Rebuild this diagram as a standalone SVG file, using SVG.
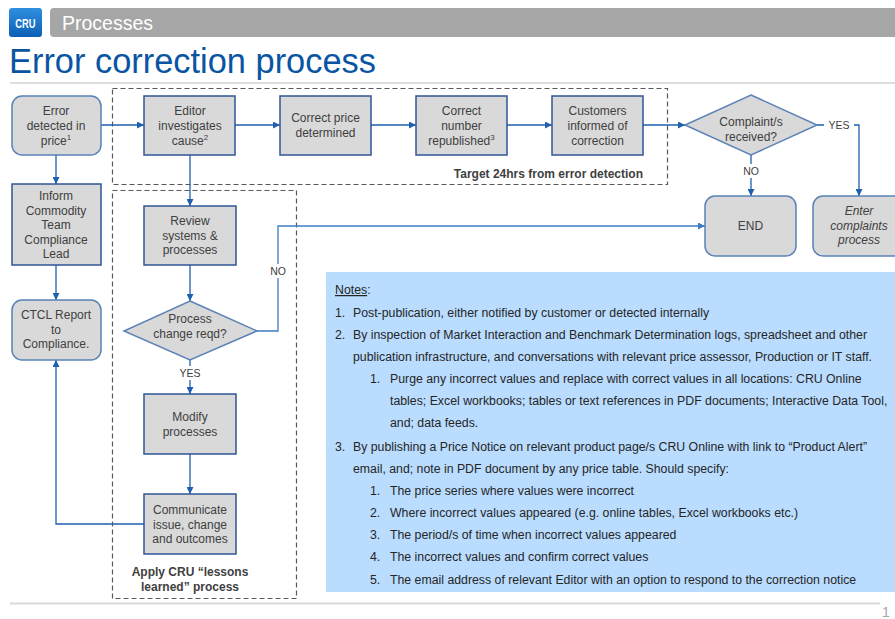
<svg xmlns="http://www.w3.org/2000/svg" width="895" height="619" viewBox="0 0 895 619">
<defs>
<linearGradient id="logoGrad" x1="0" y1="0" x2="0" y2="1">
<stop offset="0" stop-color="#2F8FE0"/>
<stop offset="1" stop-color="#0B5FB4"/>
</linearGradient>
<marker id="arr" viewBox="0 0 10 10" refX="10" refY="5" markerWidth="7" markerHeight="7" markerUnits="userSpaceOnUse" orient="auto">
<path d="M0,0 L10,5 L0,10 z" fill="#1F5FAD"/>
</marker>
<marker id="arrL" viewBox="0 0 10 10" refX="10" refY="5" markerWidth="7" markerHeight="7" markerUnits="userSpaceOnUse" orient="auto">
<path d="M0,0 L10,5 L0,10 z" fill="#3E7CC2"/>
</marker>
</defs>
<style>
.box{fill:#D9D9D9;stroke:#2F5597;stroke-width:1.5}
.rbox{fill:#D9D9D9;stroke:#5A82B6;stroke-width:1.5}
.dia{fill:#D9D9D9;stroke:#5A82B6;stroke-width:1.5}
.t{font-family:"Liberation Sans",Arial,sans-serif;font-size:12px;fill:#404040;text-anchor:middle}
.ti{font-style:italic}
.b{font-family:"Liberation Sans",Arial,sans-serif;font-size:12px;font-weight:bold;fill:#404040}
.lbl{font-family:"Liberation Sans",Arial,sans-serif;font-size:10.5px;fill:#404040;text-anchor:middle}
.dash{fill:none;stroke:#595959;stroke-width:1.2;stroke-dasharray:5,3}
.c{fill:none;stroke:#1F5FAD;stroke-width:1.3}
.cl{fill:none;stroke:#3E7CC2;stroke-width:1.3}
.n{font-family:"Liberation Sans",Arial,sans-serif;font-size:12.3px;fill:#262626}
.sup{font-size:8px}
</style>
<rect width="895" height="619" fill="#FFFFFF"/>

<g id="header">
<rect x="9" y="8" width="33" height="29" rx="3" fill="url(#logoGrad)"/>
<text x="25.5" y="28" font-family="'Liberation Sans',Arial,sans-serif" font-size="13" font-weight="bold" fill="#FFFFFF" text-anchor="middle" transform="translate(25.5,0) scale(0.72,1) translate(-25.5,0)">CRU</text>
<path d="M54,8 H895 V37 H54 Q50,37 50,33 V12 Q50,8 54,8 z" fill="#A6A6A6"/>
<text x="62" y="29.5" font-family="'Liberation Sans',Arial,sans-serif" font-size="19.5" fill="#FFFFFF">Processes</text>
<text x="9" y="72.5" font-family="'Liberation Sans',Arial,sans-serif" font-size="34.4" fill="#0A55A3">Error correction process</text>
<line x1="10" y1="83" x2="895" y2="83" stroke="#BFBFBF" stroke-width="1.2"/>
</g>

<g id="group-target24">
<rect class="dash" x="112.5" y="88.5" width="555" height="96"/>
<text class="b" x="643" y="178" text-anchor="end">Target 24hrs from error detection</text>
</g>
<g id="group-lessons">
<rect class="dash" x="112.5" y="190.5" width="184" height="408"/>
<text class="b" x="190" y="576" text-anchor="middle">Apply CRU “lessons</text>
<text class="b" x="190" y="591" text-anchor="middle">learned” process</text>
</g>

<g id="notes">
<rect x="326" y="272" width="569" height="320" fill="#B9DCFF"/>
<text class="n" x="335" y="294"><tspan text-decoration="underline">Notes</tspan>:</text>
<text class="n" x="335" y="317">1.</text><text class="n" x="353" y="317">Post-publication, either notified by customer or detected internally</text>
<text class="n" x="335" y="339">2.</text><text class="n" x="353" y="339">By inspection of Market Interaction and Benchmark Determination logs, spreadsheet and other</text>
<text class="n" x="353" y="361">publication infrastructure, and conversations with relevant price assessor, Production or IT staff.</text>
<text class="n" x="370" y="383">1.</text><text class="n" x="390" y="383">Purge any incorrect values and replace with correct values in all locations: CRU Online</text>
<text class="n" x="390" y="405">tables; Excel workbooks; tables or text references in PDF documents; Interactive Data Tool,</text>
<text class="n" x="390" y="427">and; data feeds.</text>
<text class="n" x="335" y="451">3.</text><text class="n" x="353" y="451">By publishing a Price Notice on relevant product page/s CRU Online with link to “Product Alert”</text>
<text class="n" x="353" y="473">email, and; note in PDF document by any price table. Should specify:</text>
<text class="n" x="370" y="495">1.</text><text class="n" x="390" y="495">The price series where values were incorrect</text>
<text class="n" x="370" y="517">2.</text><text class="n" x="390" y="517">Where incorrect values appeared (e.g. online tables, Excel workbooks etc.)</text>
<text class="n" x="370" y="539">3.</text><text class="n" x="390" y="539">The period/s of time when incorrect values appeared</text>
<text class="n" x="370" y="561">4.</text><text class="n" x="390" y="561">The incorrect values and confirm correct values</text>
<text class="n" x="370" y="584">5.</text><text class="n" x="390" y="584">The email address of relevant Editor with an option to respond to the correction notice</text>
</g>

<g id="connectors">
<line class="c" x1="101" y1="125" x2="144" y2="125" marker-end="url(#arr)"/>
<line class="c" x1="235" y1="125" x2="280" y2="125" marker-end="url(#arr)"/>
<line class="c" x1="371" y1="125" x2="416" y2="125" marker-end="url(#arr)"/>
<line class="c" x1="507" y1="125" x2="552" y2="125" marker-end="url(#arr)"/>
<line class="c" x1="643" y1="125" x2="685" y2="125" marker-end="url(#arr)"/>
<polyline class="c" points="817,125 859,125 859,196" marker-end="url(#arr)"/>
<line class="c" x1="751" y1="155" x2="751" y2="196" marker-end="url(#arr)"/>
<line class="c" x1="56" y1="155" x2="56" y2="184" marker-end="url(#arr)"/>
<line class="c" x1="56" y1="265" x2="56" y2="300" marker-end="url(#arr)"/>
<line class="c" x1="190" y1="155" x2="190" y2="206" marker-end="url(#arr)"/>
<line class="c" x1="190" y1="265" x2="190" y2="301" marker-end="url(#arr)"/>
<line class="c" x1="190" y1="360" x2="190" y2="394" marker-end="url(#arr)"/>
<line class="c" x1="190" y1="454" x2="190" y2="494" marker-end="url(#arr)"/>
<polyline class="c" points="144,524 56,524 56,360" marker-end="url(#arr)"/>
<polyline class="cl" points="257,331 278,331 278,226 705,226" marker-end="url(#arrL)"/>
<rect x="824" y="118" width="30" height="14" fill="#FFFFFF"/>
<text class="lbl" x="839" y="129">YES</text>
<rect x="741" y="164" width="20" height="14" fill="#FFFFFF"/>
<text class="lbl" x="751" y="175">NO</text>
<rect x="268" y="264" width="20" height="14" fill="#FFFFFF"/>
<text class="lbl" x="278" y="275">NO</text>
<rect x="178" y="366" width="24" height="14" fill="#FFFFFF"/>
<text class="lbl" x="190" y="377">YES</text>
</g>

<g id="node-error">
<rect class="rbox" x="12" y="96" width="89" height="59" rx="10"/>
<text class="t" x="56" y="115">Error</text>
<text class="t" x="56" y="130">detected in</text>
<text class="t" x="56" y="145">price<tspan class="sup" dy="-5">1</tspan></text>
</g>
<g id="node-editor">
<rect class="box" x="144" y="96" width="91" height="59"/>
<text class="t" x="190" y="115">Editor</text>
<text class="t" x="190" y="130">investigates</text>
<text class="t" x="190" y="145">cause<tspan class="sup" dy="-5">2</tspan></text>
</g>
<g id="node-correct-price">
<rect class="box" x="280" y="96" width="91" height="59"/>
<text class="t" x="325.5" y="122">Correct price</text>
<text class="t" x="325.5" y="137">determined</text>
</g>
<g id="node-republished">
<rect class="box" x="416" y="96" width="91" height="59"/>
<text class="t" x="461.5" y="115">Correct</text>
<text class="t" x="461.5" y="130">number</text>
<text class="t" x="461.5" y="145">republished<tspan class="sup" dy="-5">3</tspan></text>
</g>
<g id="node-customers">
<rect class="box" x="552" y="96" width="91" height="59"/>
<text class="t" x="597.5" y="115">Customers</text>
<text class="t" x="597.5" y="130">informed of</text>
<text class="t" x="597.5" y="145">correction</text>
</g>
<g id="node-complaints">
<polygon class="dia" points="751,95 817,125 751,155 685,125"/>
<text class="t" x="751" y="126">Complaint/s</text>
<text class="t" x="751" y="141">received?</text>
</g>
<g id="node-end">
<rect class="rbox" x="705" y="196" width="91" height="60" rx="10"/>
<text class="t" x="750.5" y="230">END</text>
</g>
<g id="node-enter-complaints">
<rect class="rbox" x="813" y="196" width="91" height="60" rx="10"/>
<text class="t ti" x="859" y="215">Enter</text>
<text class="t ti" x="859" y="230">complaints</text>
<text class="t ti" x="859" y="244">process</text>
</g>
<g id="node-inform">
<rect class="box" x="12" y="184" width="89" height="81"/>
<text class="t" x="56" y="200">Inform</text>
<text class="t" x="56" y="215">Commodity</text>
<text class="t" x="56" y="229">Team</text>
<text class="t" x="56" y="244">Compliance</text>
<text class="t" x="56" y="258">Lead</text>
</g>
<g id="node-ctcl">
<rect class="rbox" x="12" y="300" width="89" height="60" rx="10"/>
<text class="t" x="56" y="319">CTCL Report</text>
<text class="t" x="56" y="334">to</text>
<text class="t" x="56" y="348">Compliance.</text>
</g>
<g id="node-review">
<rect class="box" x="144" y="206" width="92" height="59"/>
<text class="t" x="190" y="225">Review</text>
<text class="t" x="190" y="240">systems &amp;</text>
<text class="t" x="190" y="254">processes</text>
</g>
<g id="node-process-change">
<polygon class="dia" points="190,301 257,331 190,360 124,331"/>
<text class="t" x="190" y="323">Process</text>
<text class="t" x="190" y="338">change reqd?</text>
</g>
<g id="node-modify">
<rect class="box" x="144" y="394" width="92" height="60"/>
<text class="t" x="190" y="421">Modify</text>
<text class="t" x="190" y="436">processes</text>
</g>
<g id="node-communicate">
<rect class="box" x="144" y="494" width="92" height="60"/>
<text class="t" x="190" y="514">Communicate</text>
<text class="t" x="190" y="529">issue, change</text>
<text class="t" x="190" y="543">and outcomes</text>
</g>

<g id="footer">
<line x1="10" y1="603.5" x2="880" y2="603.5" stroke="#D9D9D9" stroke-width="2"/>
<text x="882" y="617" font-family="'Liberation Sans',Arial,sans-serif" font-size="14" fill="#A6A6A6">1</text>
</g>
</svg>
